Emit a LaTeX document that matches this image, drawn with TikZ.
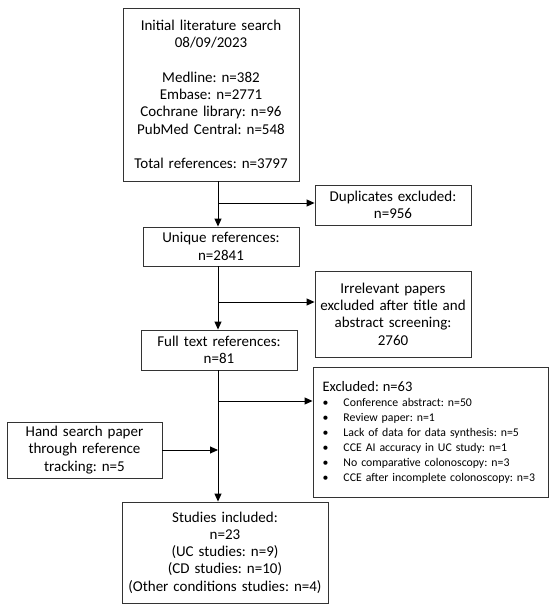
\documentclass[tikz,border=0pt]{standalone}
\usepackage{fontspec}
\setmainfont{Carlito}
\usepackage{tikz}
\usetikzlibrary{positioning, calc, arrows.meta}
\frenchspacing
\newcommand{\exitem}[1]{\mbox{\makebox[21pt][l]{\textbullet}#1}}

\begin{document}
\begin{tikzpicture}[
			x=1pt, y=-1pt,
			box/.style={rectangle, draw=black!80, line width=0.9pt, align=center, inner sep=0pt, font=\fontsize{15}{17.3}\selectfont},
			listbox/.style={box, align=left, font=\fontsize{11.8}{15}\selectfont},
			arrow/.style={line width=0.9pt, ->, >={Stealth[length=8pt, width=7pt, inset=0pt]}}
			]
			\useasboundingbox (0,0) rectangle (550,611);
			
			\node[box, minimum width=176pt, minimum height=173pt, text width=174pt] (search) at (211,94.5) {Initial literature search\\08/09/2023\\[17.3pt]Medline: n=382\\Embase: n=2771\\Cochrane library: n=96\\PubMed Central: n=548\\[17.3pt]Total references: n=3797};
			\node[box, minimum width=156pt, minimum height=40pt, text width=152pt] (dup) at (393,205) {Duplicates excluded:\\n=956};
			\node[box, minimum width=156pt, minimum height=39pt, text width=152pt] (unique) at (221,246.5) {Unique references:\\n=2841};
			\node[box, minimum width=156pt, minimum height=86pt, text width=152pt] (irrelevant) at (393,314) {Irrelevant papers\\excluded after title and\\abstract screening:\\2760};
			\node[box, minimum width=156pt, minimum height=40pt, text width=152pt] (fulltext) at (219,350) {Full text references:\\n=81};
			\node[listbox, minimum width=235pt, minimum height=130pt, text width=216pt] (excluded) at (430.5,432) {{\fontsize{14.5}{17.3}\selectfont Excluded: n=63}\\
				\exitem{Conference abstract: n=50}\\
				\exitem{Review paper: n=1}\\
				\exitem{Lack of data for data synthesis: n=5}\\
				\exitem{CCE AI accuracy in UC study: n=1}\\
				\exitem{No comparative colonoscopy: n=3}\\
				\exitem{CCE after incomplete colonoscopy: n=3}};
			\node[box, minimum width=155pt, minimum height=56pt, text width=152pt] (hand) at (84.5,450) {Hand search paper\\through reference\\tracking: n=5};
			\node[box, minimum width=206pt, minimum height=101pt, text width=202pt] (studies) at (225,552.5) {Studies included:\\n=23\\(UC studies: n=9)\\(CD studies: n=10)\\(Other conditions studies: n=4)};
			
			\coordinate (spine) at (218,0);
			\coordinate (split1) at (218,203);
			\coordinate (split2) at (218,302);
			\coordinate (split3) at (218,401);
			
			\draw[arrow] (search.south -| spine) -- (unique.north -| spine);
			\draw[arrow] (unique.south -| spine) -- (fulltext.north -| spine);
			\draw[arrow] (fulltext.south -| spine) -- (studies.north -| spine);
			
			\draw[arrow] (split1) -- (split1 -| dup.west);
			\draw[arrow] (split2) -- (split2 -| irrelevant.west);
			\draw[arrow] (split3) -- (split3 -| excluded.west);
			\draw[arrow] (hand.east) -- (hand.east -| spine);
			
		\end{tikzpicture}
\end{document}
